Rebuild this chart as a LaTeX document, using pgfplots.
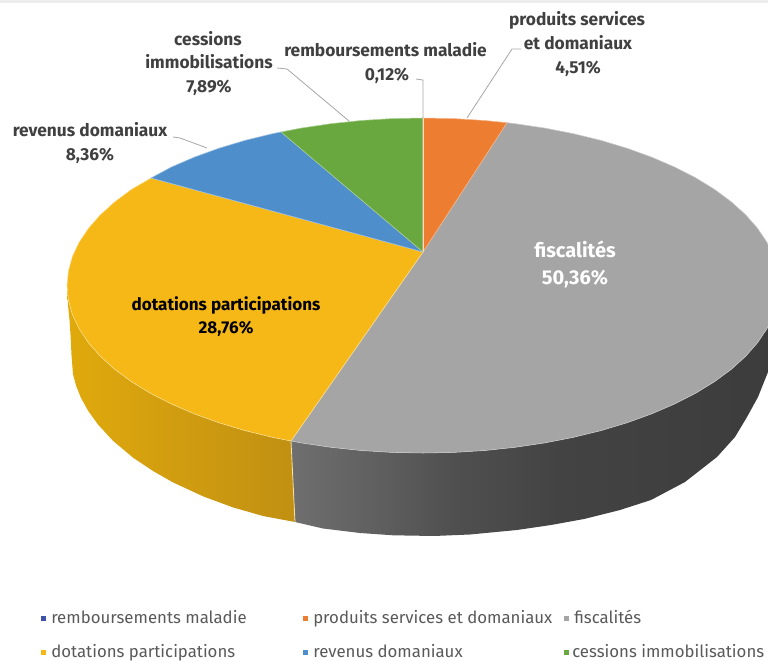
\documentclass[border=0pt]{standalone}
\usepackage{fontspec}
\setmainfont{Fira Sans}
\usepackage{pgfplots}
\pgfplotsset{compat=1.18}
\definecolor{cOr}{HTML}{ED7D31}
\definecolor{cGr}{HTML}{A5A5A5}
\definecolor{cYe}{HTML}{F6B816}
\definecolor{cBl}{HTML}{4E8FCB}
\definecolor{cGn}{HTML}{68A83E}
\definecolor{cRm}{HTML}{3F51A8}
\definecolor{cLead}{HTML}{A6A6A6}
\definecolor{cLab}{HTML}{404040}
\definecolor{cLeg}{HTML}{595959}
\definecolor{gsa}{HTML}{6F6F6F}
\definecolor{gsb}{HTML}{5E5E5E}
\definecolor{gsc}{HTML}{505050}
\definecolor{gsd}{HTML}{434343}
\definecolor{gse}{HTML}{3C3C3C}
\definecolor{ysa}{HTML}{E0AA0C}
\definecolor{ysb}{HTML}{D09C10}
\definecolor{ysc}{HTML}{C19012}
\pgfdeclarehorizontalshading{graySide}{100bp}{color(0bp)=(gsa);color(25bp)=(gsa);color(34.5bp)=(gsb);color(41.3bp)=(gsc);color(52.6bp)=(gsd);color(75bp)=(gse);color(100bp)=(gse)}
\pgfdeclarehorizontalshading{yellowSide}{100bp}{color(0bp)=(ysa);color(25bp)=(ysa);color(50bp)=(ysb);color(75bp)=(ysc);color(100bp)=(ysc)}
\begin{document}
\begin{tikzpicture}
\begin{axis}[
  scale only axis, width=576pt, height=498pt,
  xmin=0, xmax=768, ymin=0, ymax=664, y dir=reverse,
  hide axis, clip=true,
]
% top strip
\addplot[fill=black!7,draw=none] coordinates {(0,0)(768,0)(768,3)(0,3)} --cycle;
% side walls
\addplot[shading=yellowSide,draw=none] coordinates {
(67,285.5)(68.4,300.1)(72.4,314.6)(79.1,328.8)(88.5,342.8)(100.4,356.3)(114.7,369.3)(131.4,381.6)(150.3,393.2)(171.3,403.9)(194.2,413.8)(218.8,422.7)(245,430.6)(272.5,437.3)(291,441)
(295,522)(263,516)(233,507.4)(203,496.3)(173,482.4)(153,471)(133,457.6)(113,440.8)(98,424.5)(88,410.6)(81,397.9)(76,385.4)(73,374.2)(71.5,355)(70.5,335)(69.5,320)(68,305)} --cycle;
\addplot[shading=graySide,draw=none] coordinates {
(291,441)(301.2,442.9)(330.9,447.3)(361.2,450.5)(392,452.4)(423,453)(454,452.4)(484.8,450.5)(515.1,447.3)(544.8,442.9)(573.5,437.3)(601,430.6)(627.2,422.7)(651.8,413.8)(674.7,403.9)(695.7,393.2)(714.6,381.6)(731.3,369.3)(745.6,356.3)(757.5,342.8)(766.9,328.8)(773.6,314.6)(777.6,300.1)(779,285.5)
(779,330)(768,372)(758,397)(747,417)(735,437)(717,457)(685,482)(651,500)(620,510)(584,519)(551,525)(517,530)(470,534.5)(434,536)(393,535.3)(360,533)(323,528.5)(295,522)} --cycle;
% side seam
\addplot[color=cYe!40,line width=0.6pt] coordinates {(291,441)(295,522)};
% tops
\addplot[fill=cGr,draw=cGr!60,line width=0.4pt] coordinates {
(423,252)(507,122.7)(515.1,123.7)(544.8,128.1)(573.5,133.7)(601,140.4)(627.2,148.3)(651.8,157.2)(674.7,167.1)(695.7,177.8)(714.6,189.4)(731.3,201.8)(745.6,214.7)(757.5,228.2)(766.9,242.2)(773.6,256.4)(777.6,270.9)(779,285.5)(777.6,300.1)(773.6,314.6)(766.9,328.8)(757.5,342.8)(745.6,356.3)(731.3,369.3)(714.6,381.6)(695.7,393.2)(674.7,403.9)(651.8,413.8)(627.2,422.7)(601,430.6)(573.5,437.3)(544.8,442.9)(515.1,447.3)(484.8,450.5)(454,452.4)(423,453)(392,452.4)(361.2,450.5)(330.9,447.3)(301.2,442.9)(291,441)} --cycle;
\addplot[fill=cYe,draw=cYe!45,line width=0.4pt] coordinates {
(423,252)(291,441)(272.5,437.3)(245,430.6)(218.8,422.7)(194.2,413.8)(171.3,403.9)(150.3,393.2)(131.4,381.6)(114.7,369.3)(100.4,356.3)(88.5,342.8)(79.1,328.8)(72.4,314.6)(68.4,300.1)(67,285.5)(68.4,270.9)(72.4,256.4)(79.1,242.2)(88.5,228.2)(100.4,214.7)(114.7,201.8)(131.4,189.4)(151,178)} --cycle;
\addplot[fill=cBl,draw=cBl!55,line width=0.4pt] coordinates {
(423,252)(151,178)(171.3,167.1)(194.2,157.2)(218.8,148.3)(245,140.4)(272.5,133.7)(281,132)} --cycle;
\addplot[fill=cGn,draw=cGn!55,line width=0.4pt] coordinates {
(423,252)(281,132)(301.2,128.1)(330.9,123.7)(361.2,120.5)(392,118.6)(423,118)} --cycle;
\addplot[fill=cOr,draw=cOr!55,line width=0.4pt] coordinates {
(423,252)(423,118)(454,118.6)(484.8,120.5)(507,122.7)} --cycle;
% thin remboursements slice
\addplot[color=cOr!30,line width=0.7pt] coordinates {(423,252)(423,118)};
% leaders
\addplot[color=cLead,line width=0.6pt] coordinates {(173,137)(180,138)(207,148)};
\addplot[color=cLead,line width=0.6pt] coordinates {(277,68)(287,69)(349,121)};
\addplot[color=cLead,line width=0.6pt] coordinates {(416,79)(423,80)(423,118)};
\addplot[color=cLead,line width=0.6pt] coordinates {(521,49)(512,49)(467,118)};
% legend keys
\addplot[only marks,mark=square*,mark size=1.5pt,color=cRm] coordinates {(43,618)};
\addplot[only marks,mark=square*,mark size=1.5pt,color=cOr] coordinates {(305,618)};
\addplot[only marks,mark=square*,mark size=1.5pt,color=cGr] coordinates {(566,618)};
\addplot[only marks,mark=square*,mark size=1.5pt,color=cYe] coordinates {(43,652)};
\addplot[only marks,mark=square*,mark size=1.5pt,color=cBl] coordinates {(305,652)};
\addplot[only marks,mark=square*,mark size=1.5pt,color=cGn] coordinates {(566,652)};
% labels
\def\lab#1#2#3{\node[font=\fontsize{13}{15}\selectfont\bfseries,text=cLab,inner sep=0pt,anchor=base] at (axis cs:#1,#2) {#3};}
\lab{208}{46}{cessions}
\lab{209}{69}{immobilisations}
\lab{209}{93}{7,89\%}
\lab{90}{137}{revenus domaniaux}
\lab{90}{161}{8,36\%}
\lab{385.5}{57}{remboursements maladie}
\lab{387}{81}{0,12\%}
\lab{577}{26}{produits services}
\lab{578}{50}{et domaniaux}
\lab{578}{74}{4,51\%}
\node[font=\fontsize{15}{17}\selectfont\bfseries,text=white,inner sep=0pt,anchor=base] at (axis cs:575,258) {fiscalités};
\node[font=\fontsize{15}{17}\selectfont\bfseries,text=white,inner sep=0pt,anchor=base] at (axis cs:575,285) {50,36\%};
\node[font=\fontsize{12.8}{15}\selectfont\bfseries,text=black,inner sep=0pt,anchor=base] at (axis cs:226,311) {dotations participations};
\node[font=\fontsize{12.8}{15}\selectfont\bfseries,text=black,inner sep=0pt,anchor=base] at (axis cs:226,334) {28,76\%};
\def\leg#1#2#3{\node[font=\fontsize{12.6}{15}\selectfont,text=cLeg,inner sep=0pt,anchor=base west] at (axis cs:#1,#2) {#3};}
\leg{51}{623}{remboursements maladie}
\leg{313}{623}{produits services et domaniaux}
\leg{574}{623}{fiscalités}
\leg{51}{657}{dotations participations}
\leg{313}{657}{revenus domaniaux}
\leg{572}{657}{cessions immobilisations}
\end{axis}
\end{tikzpicture}
\end{document}
